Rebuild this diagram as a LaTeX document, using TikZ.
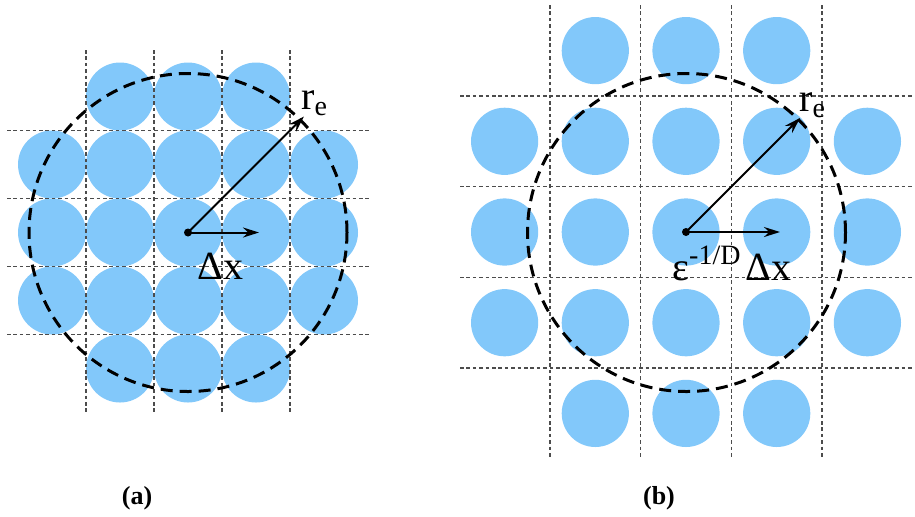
\documentclass[tikz,border=0pt]{standalone}
\usepackage{fontspec}
\setmainfont{Liberation Serif}
\usetikzlibrary{arrows.meta}
\definecolor{discblue}{RGB}{130,200,250}
\begin{document}
\begin{tikzpicture}[x=0.5pt,y=-0.5pt]
    \tikzstyle{disc}=[fill=discblue, draw=none]
    \tikzstyle{gridline}=[draw=black!70, line width=0.7pt, dash pattern=on 1.8pt off 1.4pt]
    \tikzstyle{rangecircle}=[draw=black, line width=1.5pt, dash pattern=on 6pt off 3.5pt]
    \tikzstyle{vecline}=[-{Stealth[length=8pt, width=5pt]}, line width=1pt]
    \tikzstyle{biglabel}=[font=\fontsize{20}{22}\selectfont, inner sep=0pt]
    \tikzstyle{panellabel}=[font=\fontsize{13}{15}\selectfont\bfseries, inner sep=0pt]

    \useasboundingbox (0,0) rectangle (915,516);

    % (a) touching discs, spacing dx
    \foreach \i in {-2,...,2}
      \foreach \j in {-1,0,1}
        \fill[disc] (188+68*\i, 232.5+68*\j) circle (17pt);
    \foreach \i in {-1,0,1}
      \foreach \j in {-2,2}
        \fill[disc] (188+68*\i, 232.5+68*\j) circle (17pt);
    \foreach \k in {-102,-34,34,102} {
      \draw[gridline] (188+\k,50) -- (188+\k,413);
      \draw[gridline] (7,232.5+\k) -- (370,232.5+\k);
    }
    \draw[rangecircle] (188,232.5) circle (79.5pt);

    \coordinate (ca) at (188,232.5);
    \coordinate (rea) at (304,116.5);
    \coordinate (dxa) at (259,232.5);
    \fill (ca) circle (2pt);
    \draw[vecline] (ca) -- (rea);
    \draw[vecline] (ca) -- (dxa);
    \node[biglabel, anchor=base west] (lrea) at (301,109) {r\textsubscript{e}};
    \node[biglabel, anchor=base west] (ldxa) at (197,279) {Δx};

    % (b) spread discs, spacing eps^(-1/D) dx
    \foreach \i in {-2,...,2}
      \foreach \j in {-1,0,1}
        \fill[disc] (686+90.7*\i, 232+90.7*\j) circle (16.8pt);
    \foreach \i in {-1,0,1}
      \foreach \j in {-2,2}
        \fill[disc] (686+90.7*\i, 232+90.7*\j) circle (16.8pt);
    \foreach \k in {-136,-45.35,45.35,136} {
      \draw[gridline] (686+\k,5) -- (686+\k,458);
      \draw[gridline] (460,232+\k) -- (914,232+\k);
    }
    \draw[rangecircle] (686.5,232.5) circle (79.5pt);

    \coordinate (cb) at (686,232);
    \coordinate (reb) at (800,118);
    \coordinate (dxb) at (780,232);
    \fill (cb) circle (2pt);
    \draw[vecline] (cb) -- (reb);
    \draw[vecline] (cb) -- (dxb);
    \node[biglabel, anchor=base west] (lreb) at (799,111) {r\textsubscript{e}};
    \node[biglabel, anchor=base west] (ldxb) at (672,280) {ε\textsuperscript{-1/D}\hspace{2pt}Δx};

    \node[panellabel] (la) at (137,498) {(a)};
    \node[panellabel] (lb) at (659,498) {(b)};
\end{tikzpicture}
\end{document}
